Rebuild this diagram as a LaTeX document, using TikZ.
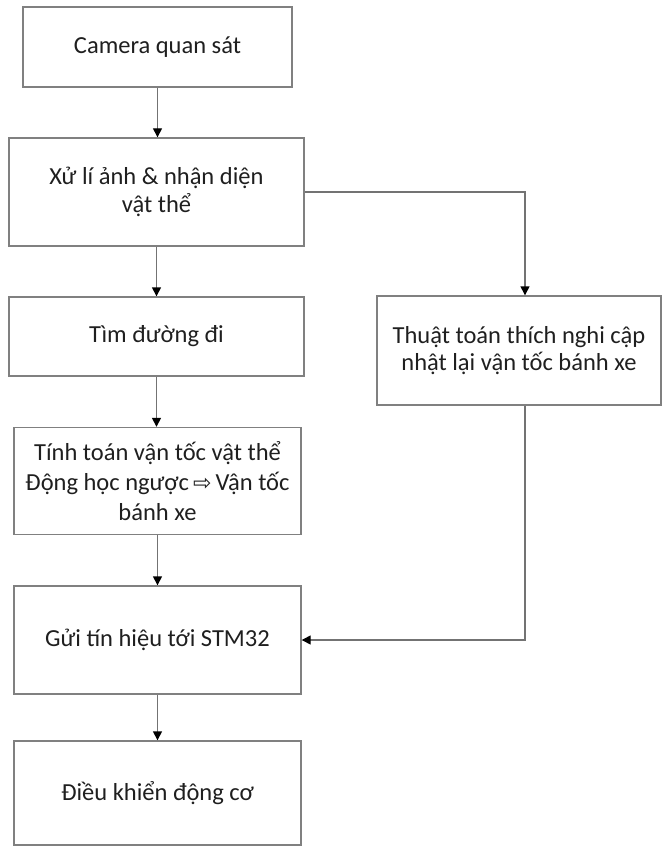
\documentclass[tikz,border=0pt]{standalone}
\usepackage{fontspec}
\setmainfont{Carlito}
\newfontfamily\symfont{DejaVu Sans}
\usetikzlibrary{arrows.meta}

\begin{document}
\begin{tikzpicture}[x=1pt,y=-1pt,
  box/.style={draw=black!50, line width=1.4pt, fill=white, rectangle,
    align=center, text=black!88, inner sep=0pt,
    font=\fontsize{24.5}{27.5}\selectfont},
  arr/.style={draw=black!55, line width=1.4pt,
    -{Triangle[length=9pt,width=9pt,color=black]}}]

\useasboundingbox (0,0) rectangle (663,848);

% main column
\node[box, minimum width=269pt, minimum height=80pt]  (cam)  at (157.5,47)    {Camera quan sát};
\node[box, minimum width=295pt, minimum height=108pt] (proc) at (156.5,192)   {Xử lí ảnh \& nhận diện\\vật thể};
\node[box, minimum width=295pt, minimum height=79pt]  (path) at (156.5,336.5) {Tìm đường đi};
\node[box, minimum width=287pt, minimum height=107pt,
      font=\fontsize{24.5}{30}\selectfont]             (calc) at (157.5,481)
  {Tính toán vận tốc vật thể\\Động học ngược\,{\symfont\fontsize{22}{24}\selectfont ⇨}\,Vận tốc\\bánh xe};
\node[box, minimum width=287pt, minimum height=108pt] (send) at (157.5,640)   {Gửi tín hiệu tới STM32};
\node[box, minimum width=287pt, minimum height=104pt] (motor) at (157.5,793)  {Điều khiển động cơ};

% side branch
\node[box, minimum width=284pt, minimum height=109pt] (adapt) at (519,350.5)  {Thuật toán thích nghi cập\\nhật lại vận tốc bánh xe};

% connectors
\draw[arr] (cam.south)  -- (cam.south  |- proc.north);
\draw[arr] (proc.south) -- (proc.south |- path.north);
\draw[arr] (path.south) -- (path.south |- calc.north);
\draw[arr] (calc.south) -- (calc.south |- send.north);
\draw[arr] (send.south) -- (send.south |- motor.north);
\draw[arr] (proc.east) -| ([xshift=6pt]adapt.north);
\draw[arr] ([xshift=6pt]adapt.south) |- (send.east);

\end{tikzpicture}
\end{document}
